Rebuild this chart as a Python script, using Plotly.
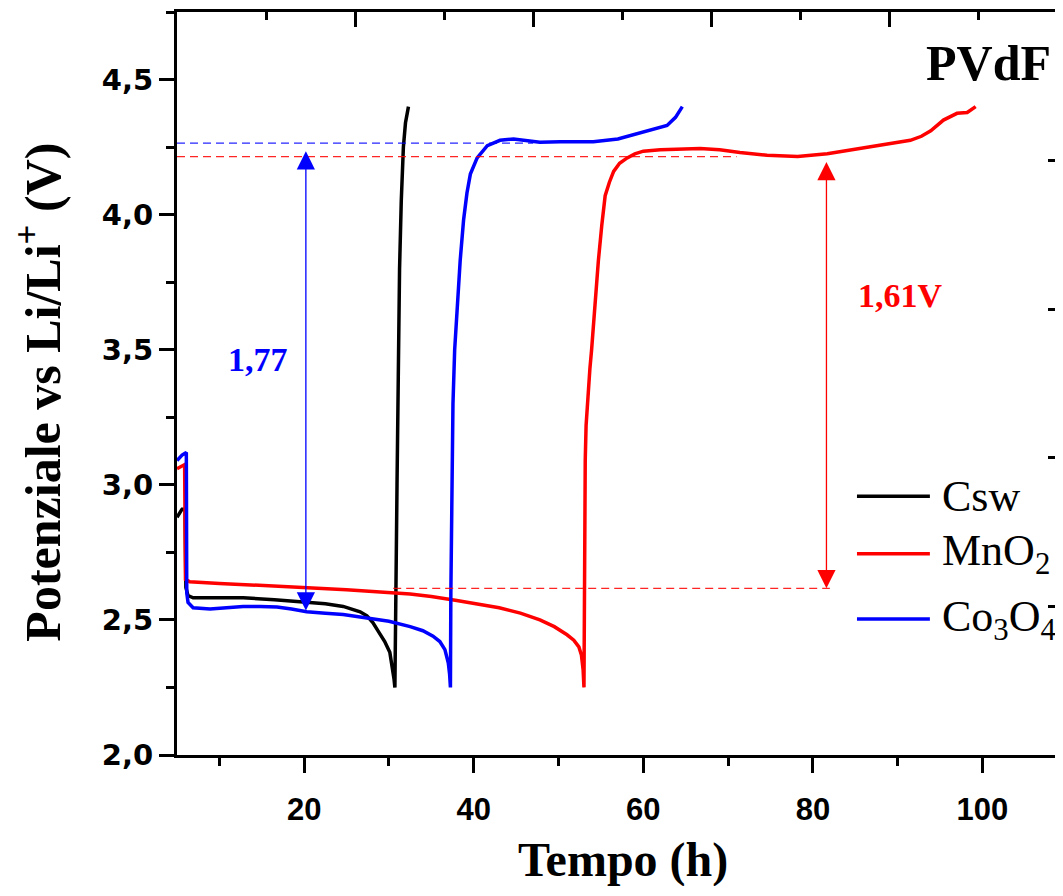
import plotly.graph_objects as go

# ---------------- data ----------------
t_csw = [5.0, 5.6, 5.95, 6.05, 6.3, 6.9, 9.0, 12.8, 16.5, 20.3, 22.5, 24.6, 26.6, 27.4, 28.1, 28.8, 29.5, 30.1, 30.4, 30.6, 30.7,
         30.75, 30.85, 30.95, 31.1, 31.25, 31.45, 31.7, 31.95, 32.3]
v_csw = [2.88, 2.91, 2.91, 2.62, 2.59, 2.582, 2.582, 2.582, 2.575, 2.566, 2.56, 2.55, 2.53, 2.515, 2.49, 2.455, 2.42, 2.38, 2.33, 2.28, 2.25,
         2.45, 2.70, 3.00, 3.40, 3.80, 4.05, 4.25, 4.34, 4.40]

t_mno2 = [5.0, 5.5, 5.9, 6.0, 6.5, 10, 15, 20, 25, 32.5, 35, 38, 40, 43, 45.5, 47.8, 49.5, 51.0, 51.8, 52.4, 52.7, 52.9, 53.0,
          53.05, 53.15, 53.25, 53.4, 53.7, 53.9, 54.3, 54.7, 55.1, 55.5, 56.0, 56.5, 57.2, 58.1, 59.0, 60.0, 62.0, 64.0, 66.7,
          69.0, 71.4, 74.6, 78.2, 81.7, 85.6, 89.1, 91.5, 92.8, 93.9, 95.4, 97.0, 98.2, 99.2]
v_mno2 = [3.06, 3.07, 3.075, 2.65, 2.641, 2.635, 2.627, 2.62, 2.612, 2.596, 2.587, 2.572, 2.56, 2.545, 2.525, 2.50, 2.475, 2.445, 2.425, 2.40, 2.37, 2.315, 2.25,
          2.60, 3.09, 3.22, 3.31, 3.43, 3.50, 3.68, 3.83, 3.96, 4.07, 4.12, 4.16, 4.19, 4.21, 4.225, 4.235, 4.24, 4.242, 4.245,
          4.24, 4.23, 4.22, 4.215, 4.225, 4.245, 4.26, 4.275, 4.29, 4.31, 4.35, 4.375, 4.378, 4.40]

t_co3o4 = [5.0, 5.6, 6.1, 6.15, 6.3, 6.9, 8.9, 10.8, 12.8, 14.8, 16.8, 18.5, 20.3, 22.5, 24.6, 27.8, 30.0, 32.5, 34.0, 35.2,
           36.0, 36.6, 37.0, 37.15, 37.25, 37.3, 37.4, 37.55, 37.75, 38.05, 38.4, 38.8, 39.2, 39.6, 40.4, 41.6, 43.1, 44.7,
           46.3, 47.8, 50.2, 54.1, 57.0, 59.3, 61.2, 62.8, 63.8, 64.6]
v_co3o4 = [3.09, 3.11, 3.12, 2.60, 2.565, 2.545, 2.54, 2.545, 2.55, 2.55, 2.548, 2.54, 2.53, 2.525, 2.52, 2.505, 2.495, 2.475, 2.46, 2.44,
           2.42, 2.39, 2.34, 2.30, 2.25, 2.60, 3.00, 3.30, 3.50, 3.68, 3.83, 3.98, 4.08, 4.15, 4.21, 4.255, 4.275, 4.28,
           4.275, 4.268, 4.27, 4.27, 4.28, 4.30, 4.315, 4.33, 4.36, 4.40]

# reference levels (dashed) and voltage-gap arrows
blue_level = 4.265
blue_level_t = [5.0, 47.0]
red_top_level = 4.215
red_top_level_t = [5.0, 71.0]
red_low_level = 2.617
red_low_level_t = [30.5, 82.0]

blue_arrow_t, blue_arrow_v = 20.2, [2.535, 4.24]
red_arrow_t, red_arrow_v = 81.6, [2.617, 4.20]

labels = {"blue": ("1,77", 14.6, 3.463), "red": ("1,61V", 90.3, 3.70), "title": ("PVdF", 100.7, 4.563)}

series_names = ["Csw", "MnO<sub>2</sub>", "Co<sub>3</sub>O<sub>4</sub>"]
series_colors = ["#000000", "#FF0000", "#0000FF"]

x_range = [5.0, 109.5]
y_range = [2.0, 4.75]

# ---------------- figure ----------------
SERIF = "Liberation Serif, Times New Roman, serif"
fig = go.Figure()

for t, v, name, col in zip([t_csw, t_mno2, t_co3o4], [v_csw, v_mno2, v_co3o4], series_names, series_colors):
    fig.add_trace(go.Scatter(x=t, y=v, mode="lines", name=name, showlegend=False,
                             line=dict(color=col, width=3.5)))

for lt, lv, col in [(blue_level_t, blue_level, "#0000FF"), (red_top_level_t, red_top_level, "#FF0000"),
                    (red_low_level_t, red_low_level, "#FF0000")]:
    fig.add_trace(go.Scatter(x=lt, y=[lv, lv], mode="lines", showlegend=False, hoverinfo="skip",
                             line=dict(color=col, width=1.3, dash="8px,5px"), opacity=0.85))

# invisible trace to anchor the mirrored top/right axes
fig.add_trace(go.Scatter(x=[None], y=[None], xaxis="x2", yaxis="y2", showlegend=False, hoverinfo="skip"))

# arrows
for at, av, col in [(blue_arrow_t, blue_arrow_v, "#0000FF"), (red_arrow_t, red_arrow_v, "#FF0000")]:
    fig.add_annotation(x=at, y=av[0], ax=at, ay=av[1], xref="x", yref="y", axref="x", ayref="y",
                       text="", showarrow=True, arrowhead=2, arrowside="end+start", arrowsize=2.8,
                       arrowwidth=1.3, arrowcolor=col)

for key, col, size in [("blue", "#0000FF", 34), ("red", "#FF0000", 34), ("title", "#000000", 50)]:
    txt, lx, ly = labels[key]
    fig.add_annotation(x=lx, y=ly, xref="x", yref="y", text="<b>%s</b>" % txt, showarrow=False,
                       font=dict(family=SERIF, size=size, color=col))

# manual legend (long line samples as in the original)
legend_y = [2.958, 2.745, 2.503]
legend_x0, legend_x1, legend_tx = 85.2, 93.8, 95.0
for name, col, ly in zip(series_names, series_colors, legend_y):
    fig.add_shape(type="line", xref="x", yref="y", x0=legend_x0, x1=legend_x1, y0=ly, y1=ly,
                  line=dict(color=col, width=3.5))
    fig.add_annotation(x=legend_tx, y=ly, xref="x", yref="y", text=name, showarrow=False,
                       xanchor="left", yanchor="middle", font=dict(family=SERIF, size=44, color="#000000"))

# axis titles
fig.add_annotation(xref="paper", yref="paper", x=0.503, y=-0.1413, text="<b>Tempo (h)</b>", showarrow=False,
                   xanchor="center", yanchor="middle", font=dict(family=SERIF, size=48, color="#000000"))
fig.add_annotation(xref="paper", yref="paper", x=-0.155, y=0.4886, text="<b>Potenziale vs Li/Li<sup>+</sup> (V)</b>",
                   showarrow=False, textangle=-90, xanchor="center", yanchor="middle",
                   font=dict(family=SERIF, size=50, color="#000000"))

fig.update_layout(
    width=1055, height=878,
    margin=dict(l=169, r=0, t=4, b=131),
    paper_bgcolor="white", plot_bgcolor="white",
    separators=",.",
    showlegend=False,
    xaxis=dict(range=x_range, tick0=0, dtick=20, ticks="outside", ticklen=15, tickwidth=3, tickcolor="black",
               showline=True, linewidth=3, linecolor="black", showgrid=False, zeroline=False,
               ticklabelstandoff=10,
               tickfont=dict(family="Liberation Sans, Arial, sans-serif", size=31, color="black", weight="bold"),
               minor=dict(dtick=10, tick0=0, ticks="outside", ticklen=8, tickwidth=3, tickcolor="black", showgrid=False)),
    yaxis=dict(range=y_range, tick0=0, dtick=0.5, tickformat=".1f", ticks="outside", ticklen=15, tickwidth=3,
               tickcolor="black", showline=True, linewidth=3, linecolor="black", showgrid=False, zeroline=False,
               tickfont=dict(family="DejaVu Sans, sans-serif", size=29, color="black", weight="bold"),
               minor=dict(dtick=0.25, tick0=0, ticks="outside", ticklen=8, tickwidth=3, tickcolor="black", showgrid=False)),
    xaxis2=dict(overlaying="x", side="top", range=[0, 886 / 178], dtick=1, tick0=0, ticks="inside", ticklen=15,
                tickwidth=3, tickcolor="black", showline=True, linewidth=3, linecolor="black", showticklabels=False,
                showgrid=False, zeroline=False,
                minor=dict(dtick=0.5, tick0=0, ticks="inside", ticklen=8, tickwidth=3, tickcolor="black", showgrid=False)),
    yaxis2=dict(overlaying="y", side="right", range=[0, 5], dtick=1, tick0=0, ticks="inside", ticklen=15,
                tickwidth=3, tickcolor="black", showline=False, showticklabels=False, showgrid=False, zeroline=False,
                minor=dict(dtick=0.5, tick0=0, ticks="inside", ticklen=8, tickwidth=3, tickcolor="black", showgrid=False)),
)

fig.write_html("out.html")
